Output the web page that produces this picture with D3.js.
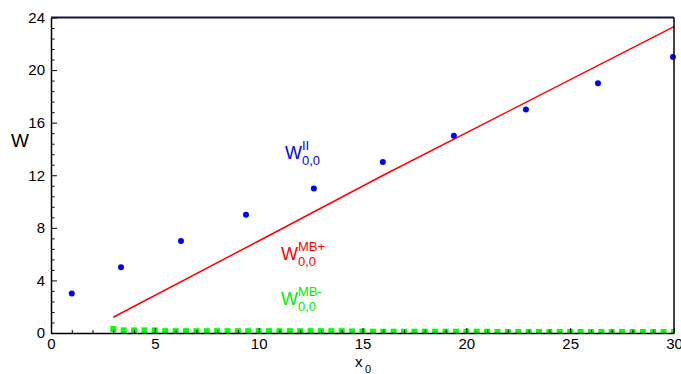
<!DOCTYPE html>
<html>
<head>
<meta charset="utf-8">
<script src="https://d3js.org/d3.v7.min.js"></script>
<style>
    body { margin: 0; background: #ffffff; }
    text { font-family: "Liberation Sans", Arial, sans-serif; fill: #000000; }
    .axis path { stroke: #000000; stroke-width: 1.5px; }
    .axis line { stroke: #000000; stroke-width: 1px; }
    .axis text { font-size: 15px; }
</style>
</head>
<body>
<div id="container"></div>
<script>
    // data
    const blueX = [1.0, 3.37, 6.26, 9.39, 12.66, 15.98, 19.4, 22.87, 26.34, 29.95];
    const blueW = [3, 5, 7, 9, 11, 13, 15, 17, 19, 21];

    const redX = [3, 10, 16, 30];
    const redW = [1.2, 7.0, 12.0, 23.3];

    const greenX = [3, 3.5, 4, 4.5, 5, 5.5, 6, 6.5, 7, 7.5, 8, 8.5, 9, 9.5, 10, 10.5, 11, 11.5, 12, 12.5,
        13, 13.5, 14, 14.5, 15, 15.5, 16, 16.5, 17, 17.5, 18, 18.5, 19, 19.5, 20, 20.5, 21, 21.5, 22, 22.5,
        23, 23.5, 24, 24.5, 25, 25.5, 26, 26.5, 27, 27.5, 28, 28.5, 29, 29.5, 30];
    const greenW = [0.3, 0.2, 0.2, 0.2, 0.2, 0.14, 0.14, 0.14, 0.14, 0.14, 0.14, 0.14, 0.14, 0.14, 0.14,
        0.14, 0.14, 0.14, 0.14, 0.14, 0.14, 0.14, 0.14, 0.12, 0.12, 0.1, 0.1, 0.1, 0.1, 0.1,
        0.1, 0.1, 0.1, 0.1, 0.1, 0.1, 0.1, 0.08, 0.08, 0.08, 0.08, 0.08, 0.08, 0.08, 0.08,
        0.08, 0.08, 0.08, 0.08, 0.08, 0.08, 0.08, 0.08, 0.08, 0.08];

    const xTicks = [0, 5, 10, 15, 20, 25, 30];
    const yTicks = [0, 4, 8, 12, 16, 20, 24];
    const xMinor = [1, 2, 3, 4, 6, 7, 8, 9, 11, 12, 13, 14, 16, 17, 18, 19, 21, 22, 23, 24, 26, 27, 28, 29];
    const yMinor = [0.8, 1.6, 2.4, 3.2, 4.8, 5.6, 6.4, 7.2, 8.8, 9.6, 10.4, 11.2, 12.8, 13.6, 14.4, 15.2,
        16.8, 17.6, 18.4, 19.2, 20.8, 21.6, 22.4, 23.2];

    const margin = {top: 17.5, right: 7, bottom: 41, left: 51};
    const W = 681, H = 374;
    const width = W - margin.left - margin.right;
    const height = H - margin.top - margin.bottom;

    const svg = d3.select("#container")
        .append("svg")
        .attr("width", W)
        .attr("height", H);

    const g = svg.append("g")
        .attr("transform", "translate(" + margin.left + "," + margin.top + ")");

    const x = d3.scaleLinear().domain([0, 30]).range([0, width]);
    const y = d3.scaleLinear().domain([0, 24]).range([height, 0]);

    g.append("clipPath")
        .attr("id", "plotclip")
        .append("rect")
        .attr("width", width)
        .attr("height", height);

    // green squares
    g.append("g")
        .attr("clip-path", "url(#plotclip)")
        .selectAll("rect")
        .data(greenX.map((d, i) => [d, greenW[i]]))
        .enter()
        .append("rect")
        .attr("x", d => x(d[0]) - 3)
        .attr("y", d => y(d[1]) - 3)
        .attr("width", 6)
        .attr("height", 6)
        .attr("fill", "#00ff00");

    // red line
    const line = d3.line().x(d => x(d[0])).y(d => y(d[1]));
    g.append("path")
        .datum(redX.map((d, i) => [d, redW[i]]))
        .attr("d", line)
        .attr("fill", "none")
        .attr("stroke", "#ff0000")
        .attr("stroke-width", 1.5);

    // blue dots
    g.append("g")
        .selectAll("circle")
        .data(blueX.map((d, i) => [d, blueW[i]]))
        .enter()
        .append("circle")
        .attr("cx", d => x(d[0]))
        .attr("cy", d => y(d[1]))
        .attr("r", 3)
        .attr("fill", "#0000ff");

    // minor ticks
    g.append("g")
        .attr("class", "axis")
        .attr("transform", "translate(0," + height + ")")
        .call(d3.axisBottom(x).tickValues(xMinor).tickFormat("").tickSizeInner(-3).tickSizeOuter(0))
        .select(".domain").remove();
    g.append("g")
        .attr("class", "axis")
        .call(d3.axisLeft(y).tickValues(yMinor).tickFormat("").tickSizeInner(-3.5).tickSizeOuter(0))
        .select(".domain").remove();

    // major axes
    g.append("g")
        .attr("class", "axis")
        .attr("transform", "translate(0," + height + ")")
        .call(d3.axisBottom(x).tickValues(xTicks).tickSizeInner(-5).tickSizeOuter(0).tickPadding(5));
    g.append("g")
        .attr("class", "axis")
        .call(d3.axisLeft(y).tickValues(yTicks).tickSizeInner(-6).tickSizeOuter(0).tickPadding(6));

    // frame top and right
    g.append("line")
        .attr("x1", 0).attr("x2", width)
        .attr("y1", 0).attr("y2", 0)
        .attr("stroke", "#141440")
        .attr("stroke-width", 2);
    g.append("line")
        .attr("x1", width).attr("x2", width)
        .attr("y1", 0).attr("y2", height)
        .attr("stroke", "#000000")
        .attr("stroke-width", 1.5);

    // axis titles
    svg.append("text").attr("x", 11).attr("y", 147).style("font-size", "19px").text("W");
    svg.append("text").attr("x", 355).attr("y", 367).style("font-size", "15px").text("x");
    svg.append("text").attr("x", 365).attr("y", 373).style("font-size", "11px").text("0");

    // series labels
    function label(px, py, sup, color) {
        svg.append("text").attr("x", px).attr("y", py)
            .style("font-size", "18px").style("fill", color).text("W");
        svg.append("text").attr("x", px + 17).attr("y", py - 9)
            .style("font-size", "13px").style("fill", color).text(sup);
        svg.append("text").attr("x", px + 17).attr("y", py + 6)
            .style("font-size", "13px").style("fill", color).text("0,0");
    }
    label(285, 159, "II", "#0000ff");
    label(281, 260, "MB+", "#ff0000");
    label(281, 305, "MB-", "#00ee00");
</script>
</body>
</html>
